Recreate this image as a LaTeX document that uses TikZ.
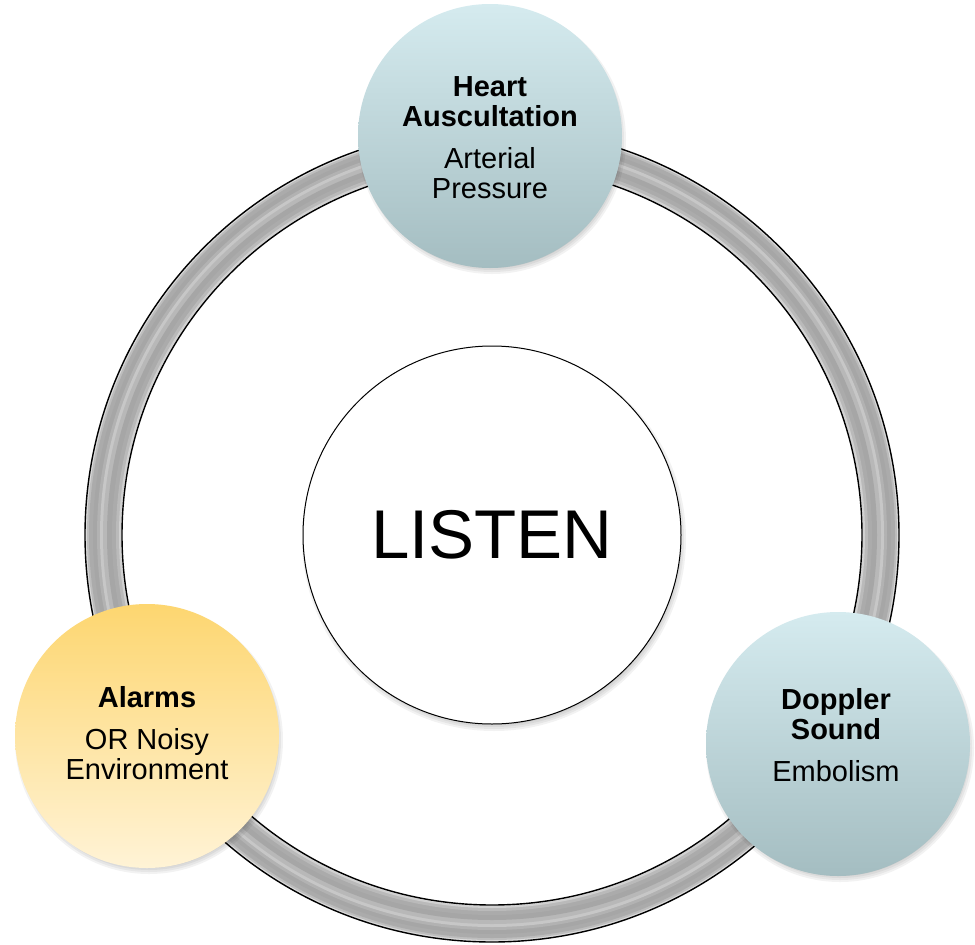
\documentclass[tikz,border=0pt]{standalone}
\usepackage{fontspec}
\setmainfont{Liberation Sans}
\definecolor{bluetop}{RGB}{213,235,239}
\definecolor{bluebot}{RGB}{164,189,193}
\definecolor{yeltop}{RGB}{253,214,112}
\definecolor{yelbot}{RGB}{255,243,214}
\begin{document}
\begin{tikzpicture}[x=1pt,y=-1pt,
  bubble/.style={circle, minimum size=264pt, inner sep=0pt},
  bubbletext/.style={align=center, inner sep=0pt, text=black, font=\fontsize{29}{30}\selectfont},
  shadowfill/.style={fill=black, opacity=0.05},
  ringline/.style={line width=1.4pt, draw=black}
]
\useasboundingbox (0,0) rectangle (975,945);
\coordinate (c) at (492,535);
\coordinate (ptop) at (490,136);
\coordinate (pleft) at (147,736);
\coordinate (pright) at (838,744);

% ring body: nested disks from outside in
\foreach \r/\k in {407/14,405/26,403/33,399/35,395/30,392/22,389/28,385/35,380/33,376/27,373/18,371/10}
  \fill[black!\k] (c) circle (\r);
\fill[white] (c) circle (370);
\draw[ringline] (c) circle (370);
\draw[ringline] (c) circle (407);

% soft shadows
\foreach \s in {0,2,4,6}{
  \fill[shadowfill] ([shift={(2,4)}]ptop) circle (128+\s);
  \fill[shadowfill] ([shift={(2,4)}]pleft) circle (128+\s);
  \fill[shadowfill] ([shift={(2,4)}]pright) circle (128+\s);
  \fill[shadowfill] ([shift={(2,4)}]c) circle (186+\s);
}

% center
\node[circle, draw=black, line width=1pt, fill=white, minimum size=378pt, inner sep=0pt,
      font=\fontsize{69}{70}\selectfont] (listen) at (c) {LISTEN};

% satellite circles
\node[bubble, top color=bluetop, bottom color=bluebot] (heart) at (ptop) {};
\node[bubble, top color=yeltop, bottom color=yelbot] (alarms) at (pleft) {};
\node[bubble, top color=bluetop, bottom color=bluebot] (doppler) at (pright) {};

\node[bubbletext] (hearttxt) at (490,138) {\textbf{Heart}\\\textbf{Auscultation}\\[12pt]Arterial\\Pressure};
\node[bubbletext] (alarmstxt) at (147,733) {\textbf{Alarms}\\[12pt]OR Noisy\\Environment};
\node[bubbletext] (dopplertxt) at (836,735) {\textbf{Doppler}\\\textbf{Sound}\\[12pt]Embolism};
\end{tikzpicture}
\end{document}
